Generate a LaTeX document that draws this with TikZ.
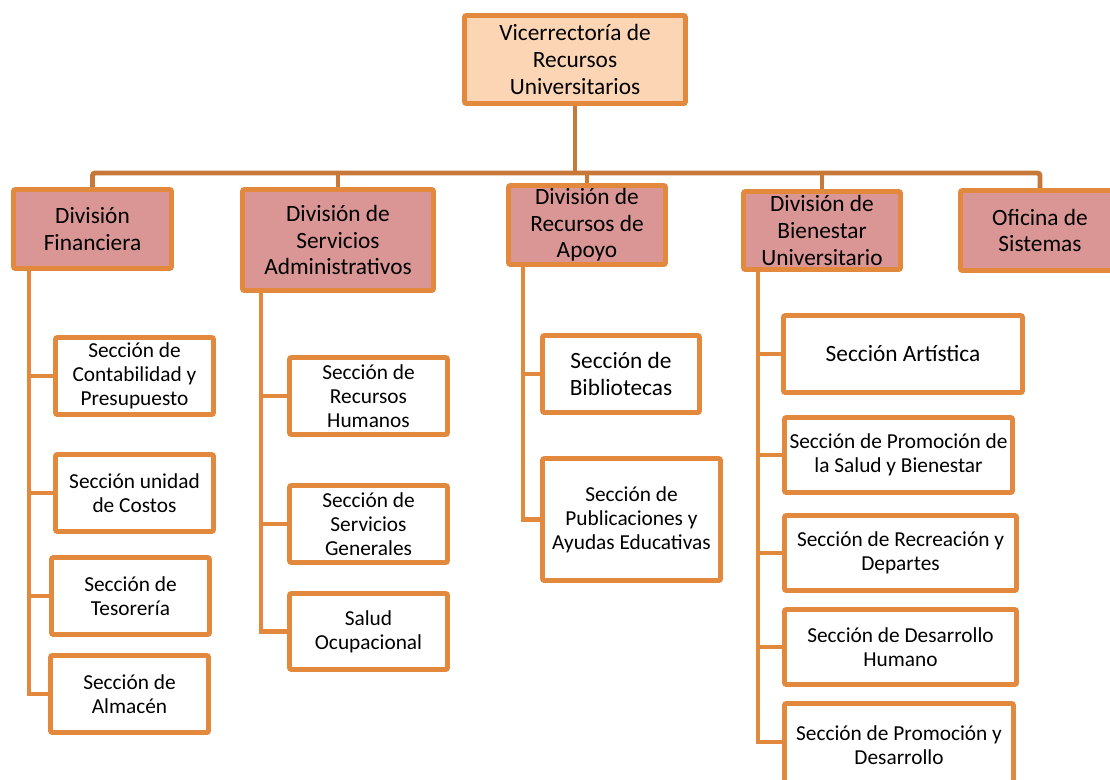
\documentclass[tikz,border=0pt]{standalone}
\usepackage{fontspec}
\setmainfont{Carlito}
\usetikzlibrary{backgrounds}
\definecolor{bord}{RGB}{227,137,62}
\definecolor{busc}{RGB}{198,121,56}
\definecolor{divfill}{RGB}{218,150,148}
\definecolor{topfill}{RGB}{252,213,180}
\tikzset{
  box/.style={draw=bord, line width=3.7pt, rounded corners=1.5pt, align=center, inner sep=1pt},
  sz/.style 2 args={minimum width={(#1-5)*0.75pt}, minimum height={(#2-5)*0.75pt}},
  topbox/.style={box, fill=topfill, font=\fontsize{17.5}{19.9}\selectfont},
  divbox/.style={box, fill=divfill, font=\fontsize{17.5}{19.9}\selectfont},
  secbox/.style={box, fill=white, font=\fontsize{16}{18}\selectfont},
  trunk/.style={draw=bord, line width=3.7pt},
  busline/.style={draw=busc, line width=3.7pt, rounded corners=2pt},
}
\begin{document}
\begin{tikzpicture}[x=0.75pt,y=-0.75pt]
\useasboundingbox (0,0) rectangle (1110,779);
\clip (0,0) rectangle (1110,779);
% top
\node[topbox, sz={226}{93}] (top) at (575,59.5) {Vicerrectoría de\\Recursos\\Universitarios};
% divisions
\node[divbox, sz={163}{84}] (fin) at (92.5,229) {División\\Financiera};
\node[divbox, sz={196}{106}] (adm) at (338,240) {División de\\Servicios\\Administrativos};
\node[divbox, sz={162}{84}] (apo) at (587,225) {División de\\Recursos de\\Apoyo};
\node[divbox, sz={162}{83}] (bie) at (822,230.5) {División de\\Bienestar\\Universitario};
\node[divbox, sz={164}{85}] (ofi) at (1040,230.5) {Oficina de\\Sistemas};
% Financiera sections
\node[secbox, sz={163}{82}] (con) at (134.5,376) {Sección de\\Contabilidad y\\Presupuesto};
\node[secbox, sz={163}{82}] (cos) at (134.5,493) {Sección unidad\\de Costos};
\node[secbox, sz={163}{82}] (tes) at (130.5,596) {Sección de\\Tesorería};
\node[secbox, sz={163}{82}] (alm) at (129.5,694) {Sección de\\Almacén};
% Servicios sections
\node[secbox, sz={163}{82}] (rh) at (368.5,396) {Sección de\\Recursos\\Humanos};
\node[secbox, sz={163}{82}] (sg) at (368.5,524) {Sección de\\Servicios\\Generales};
\node[secbox, sz={163}{81}] (so) at (368.5,631.5) {Salud\\Ocupacional};
% Apoyo sections
\node[secbox, sz={162}{82}, font=\fontsize{17.5}{19.9}\selectfont] (bib) at (621,374) {Sección de\\Bibliotecas};
\node[secbox, sz={183}{127}] (pub) at (631.5,519.5) {Sección de\\Publicaciones y\\Ayudas Educativas};
% Bienestar sections
\node[secbox, sz={244}{82}, font=\fontsize{17.5}{19.9}\selectfont] (art) at (903,354) {Sección Artística};
\node[secbox, sz={233}{80}] (ps) at (898.5,455) {Sección de Promoción de\\la Salud y Bienestar};
\node[secbox, sz={237}{80}] (rec) at (900.5,553) {Sección de Recreación y\\Departes};
\node[secbox, sz={237}{80}] (dh) at (900.5,647) {Sección de Desarrollo\\Humano};
\node[secbox, sz={234}{88}] (pd) at (899,745) {Sección de Promoción y\\Desarrollo};
% connectors
\coordinate (busy) at (0,173);
\coordinate (tf) at (fin.south -| 29,0);
\coordinate (ta) at (adm.south -| 261,0);
\coordinate (tp) at (apo.south -| 523,0);
\coordinate (tb) at (bie.south -| 758,0);
\begin{scope}[on background layer]
  \draw[busline] (fin.north) |- (busy -| ofi.north) -- (ofi.north);
  \draw[busline] (top.south) -- (top.south |- busy);
  \draw[busline] (adm.north) -- (adm.north |- busy);
  \draw[busline] (apo.north) -- (apo.north |- busy);
  \draw[busline] (bie.north) -- (bie.north |- busy);
  \draw[trunk] (tf) |- (alm.west);
  \draw[trunk] (tf |- con.west) -- (con.west);
  \draw[trunk] (tf |- cos.west) -- (cos.west);
  \draw[trunk] (tf |- tes.west) -- (tes.west);
  \draw[trunk] (ta) |- (so.west);
  \draw[trunk] (ta |- rh.west) -- (rh.west);
  \draw[trunk] (ta |- sg.west) -- (sg.west);
  \draw[trunk] (tp) |- (pub.west);
  \draw[trunk] (tp |- bib.west) -- (bib.west);
  \draw[trunk] (tb) |- ([yshift=2.25pt]pd.west);
  \draw[trunk] (tb |- art.west) -- (art.west);
  \draw[trunk] (tb |- ps.west) -- (ps.west);
  \draw[trunk] (tb |- rec.west) -- (rec.west);
  \draw[trunk] (tb |- dh.west) -- (dh.west);
\end{scope}
\end{tikzpicture}
\end{document}
